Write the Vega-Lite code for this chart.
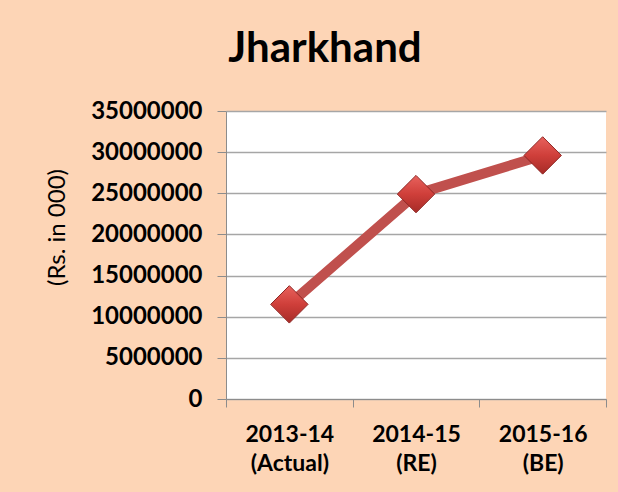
{
  "$schema": "https://vega.github.io/schema/vega-lite/v6.json",
  "width": 380,
  "height": 288,
  "autosize": {"type": "none"},
  "padding": {"left": 226, "top": 111, "right": 12, "bottom": 93},
  "background": "#fdd5b6",
  "title": {
    "text": "Jharkhand",
    "font": "Lato",
    "fontSize": 42,
    "fontWeight": "bold",
    "color": "#000000",
    "frame": "group",
    "anchor": "middle",
    "baseline": "alphabetic",
    "offset": 44,
    "dx": -91,
    "dy": 49
  },
  "config": {
    "view": {"fill": "#ffffff", "stroke": null},
    "font": "Lato"
  },
  "data": {
    "values": [
      {"period": "2013-14 (Actual)", "value": 11500000},
      {"period": "2014-15 (RE)", "value": 24900000},
      {"period": "2015-16 (BE)", "value": 29600000}
    ]
  },
  "encoding": {
    "x": {
      "field": "period",
      "type": "nominal",
      "sort": null,
      "scale": {"paddingInner": 0, "paddingOuter": 0},
      "axis": {
        "title": null,
        "labelAngle": 0,
        "labelExpr": "split(datum.label, ' ')",
        "labelFont": "Lato",
        "labelFontSize": 23,
        "labelFontWeight": "bold",
        "labelColor": "#000000",
        "labelLineHeight": 29,
        "labelPadding": 16,
        "labelBaseline": "top",
        "tickBand": "extent",
        "tickSize": 8,
        "tickColor": "#8c8c8c",
        "domainColor": "#8c8c8c",
        "grid": false
      }
    },
    "y": {
      "field": "value",
      "type": "quantitative",
      "scale": {"domain": [0, 35000000], "nice": false},
      "axis": {
        "values": [0, 5000000, 10000000, 15000000, 20000000, 25000000, 30000000, 35000000],
        "format": "d",
        "title": "(Rs. in 000)",
        "titleFont": "Lato",
        "titleFontSize": 24,
        "titleFontWeight": "normal",
        "titleColor": "#000000",
        "titleX": -169,
        "titleY": 116,
        "titleAlign": "center",
        "titleBaseline": "middle",
        "titleAngle": 270,
        "labelFont": "Lato",
        "labelFontSize": 24,
        "labelFontWeight": "bold",
        "labelColor": "#000000",
        "labelPadding": 15,
        "tickSize": 9,
        "tickColor": "#8c8c8c",
        "domainColor": "#8c8c8c",
        "gridColor": "#a6a6a6",
        "gridWidth": 1.5
      }
    }
  },
  "layer": [
    {
      "mark": {"type": "line", "color": "#c0504d", "strokeWidth": 10, "strokeJoin": "round"}
    },
    {
      "mark": {
        "type": "point",
        "shape": "diamond",
        "size": 1400,
        "filled": true,
        "opacity": 1,
        "fill": {
          "gradient": "linear",
          "x1": 0, "y1": 0, "x2": 0, "y2": 1,
          "stops": [
            {"offset": 0, "color": "#e8625d"},
            {"offset": 0.5, "color": "#cf3f3a"},
            {"offset": 1, "color": "#a62b27"}
          ]
        },
        "stroke": "#8e2623",
        "strokeWidth": 1
      }
    }
  ]
}
